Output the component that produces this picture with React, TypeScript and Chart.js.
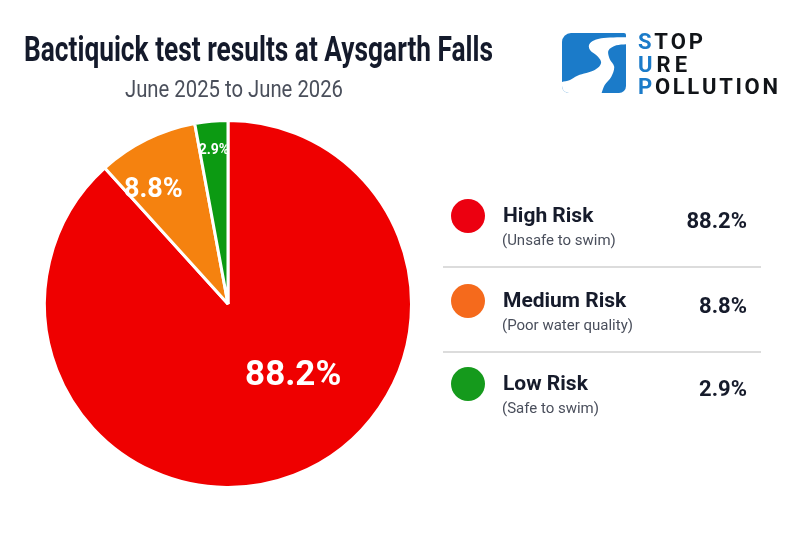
import React, { useEffect, useRef } from "react";
import { Chart, registerables } from "chart.js";

Chart.register(...registerables);

// ---- data ----
const categories = ["High Risk", "Medium Risk", "Low Risk"];
const descriptions = ["(Unsafe to swim)", "(Poor water quality)", "(Safe to swim)"];
const values = [88.2, 8.8, 2.9];
const titleText = "Bactiquick test results at Aysgarth Falls";
const subtitleText = "June 2025 to June 2026";
const logoFirstLetters = ["S", "U", "P"];
const logoRest = ["TOP", "RE", "OLLUTION"];

// ---- styles ----
const sliceColors = ["#EF0000", "#F5820F", "#0C9A12"];
const legendColors = ["#EC0010", "#F56A1C", "#159A1C"];
const labelRadiusFrac = [0.53, 0.74, 0.84];
const labelAngleShift = [-21, -7, 0];
const labelFontSize = [35, 27, 14];
const FONT = "Roboto, 'Noto Sans', sans-serif";

const fmt = (v: number) => v.toFixed(1) + "%";

function drawText(
  ctx: CanvasRenderingContext2D,
  text: string,
  x: number,
  y: number,
  font: string,
  color: string,
  width?: number,
  align: "left" | "right" | "center" = "left",
  baseline: CanvasTextBaseline = "alphabetic"
) {
  ctx.save();
  ctx.font = font;
  ctx.fillStyle = color;
  ctx.textBaseline = baseline;
  ctx.textAlign = "left";
  const w = ctx.measureText(text).width;
  const s = width ? width / w : 1;
  const left = align === "left" ? x : align === "right" ? x - w * s : x - (w * s) / 2;
  ctx.translate(left, y);
  ctx.scale(s, 1);
  ctx.fillText(text, 0, 0);
  ctx.restore();
}

function drawSpaced(
  ctx: CanvasRenderingContext2D,
  first: string,
  rest: string,
  x: number,
  y: number,
  font: string,
  target: number
) {
  ctx.save();
  ctx.font = font;
  ctx.textBaseline = "alphabetic";
  ctx.textAlign = "left";
  const chars = (first + rest).split("");
  const total = chars.reduce((a, c) => a + ctx.measureText(c).width, 0);
  const gap = chars.length > 1 ? (target - total) / (chars.length - 1) : 0;
  let cx = x;
  chars.forEach((c, i) => {
    ctx.fillStyle = i === 0 ? "#1B7BC9" : "#111418";
    ctx.fillText(c, cx, y);
    cx += ctx.measureText(c).width + gap;
  });
  ctx.restore();
}

// smooth path through points (Catmull-Rom -> Bezier)
function smoothThrough(ctx: CanvasRenderingContext2D, pts: number[][], start: boolean) {
  if (start) ctx.moveTo(pts[0][0], pts[0][1]);
  else ctx.lineTo(pts[0][0], pts[0][1]);
  for (let i = 0; i < pts.length - 1; i++) {
    const p0 = pts[Math.max(i - 1, 0)];
    const p1 = pts[i];
    const p2 = pts[i + 1];
    const p3 = pts[Math.min(i + 2, pts.length - 1)];
    const c1x = p1[0] + (p2[0] - p0[0]) / 6;
    const c1y = p1[1] + (p2[1] - p0[1]) / 6;
    const c2x = p2[0] - (p3[0] - p1[0]) / 6;
    const c2y = p2[1] - (p3[1] - p1[1]) / 6;
    ctx.bezierCurveTo(c1x, c1y, c2x, c2y, p2[0], p2[1]);
  }
}

function drawLogo(ctx: CanvasRenderingContext2D) {
  ctx.save();
  ctx.beginPath();
  (ctx as any).roundRect(562, 33, 64, 60, [9, 2, 7, 7]);
  ctx.fillStyle = "#1B7BC9";
  ctx.fill();
  ctx.clip();
  ctx.fillStyle = "#ffffff";
  ctx.beginPath();
  const left = [
    [628, 37.3], [601.3, 38.3], [590, 43.3], [590, 50], [598, 56.7], [601, 63.3],
    [594.7, 70], [578, 75.5], [570, 80], [562, 82], [560, 84],
  ];
  const right = [
    [601.3, 94], [604.7, 85], [611.3, 76.7], [614.2, 66.7], [609.7, 59], [608.5, 50.5], [616.3, 45.3], [628, 44],
  ];
  smoothThrough(ctx, left, true);
  ctx.lineTo(560, 95);
  smoothThrough(ctx, right, false);
  ctx.closePath();
  ctx.fill();
  ctx.restore();

  const f = `700 22px ${FONT}`;
  drawSpaced(ctx, logoFirstLetters[0], logoRest[0], 638, 49, f, 65);
  drawSpaced(ctx, logoFirstLetters[1], logoRest[1], 638, 72, f, 49);
  drawSpaced(ctx, logoFirstLetters[2], logoRest[2], 638, 94, f, 140);
}

const decorPlugin = {
  id: "decor",
  beforeDraw(chart: any) {
    const ctx: CanvasRenderingContext2D = chart.ctx;
    ctx.save();
    ctx.fillStyle = "#ffffff";
    ctx.fillRect(0, 0, chart.width, chart.height);
    ctx.restore();
  },
  afterDraw(chart: any) {
    const ctx: CanvasRenderingContext2D = chart.ctx;
    // title & subtitle
    drawText(ctx, titleText, 24, 61, `700 35px ${FONT}`, "#141A2B", 469);
    drawText(ctx, subtitleText, 125, 97, `400 24px ${FONT}`, "#4A4F5B", 218);

    // slice labels
    const meta = chart.getDatasetMeta(0);
    meta.data.forEach((arc: any, i: number) => {
      const p = arc.getProps(["x", "y", "startAngle", "endAngle", "outerRadius"], true);
      const mid = (p.startAngle + p.endAngle) / 2 + (labelAngleShift[i] * Math.PI) / 180;
      const r = p.outerRadius * labelRadiusFrac[i];
      const lx = p.x + Math.cos(mid) * r;
      const ly = p.y + Math.sin(mid) * r;
      drawText(ctx, fmt(values[i]), lx, ly, `700 ${labelFontSize[i]}px ${FONT}`, "#ffffff", undefined, "center", "middle");
    });

    // legend
    const rowY = [216, 301, 384];
    categories.forEach((c, i) => {
      const y = rowY[i];
      ctx.save();
      ctx.beginPath();
      ctx.arc(468, y, 17, 0, Math.PI * 2);
      ctx.fillStyle = legendColors[i];
      ctx.fill();
      ctx.restore();
      drawText(ctx, c, 503, y + 6, `700 21px ${FONT}`, "#161B2B");
      drawText(ctx, descriptions[i], 502, y + 29, `400 15px ${FONT}`, "#4A4F5C");
      drawText(ctx, fmt(values[i]), 747, y + 12, `700 22px ${FONT}`, "#161B2B", undefined, "right");
    });
    ctx.save();
    ctx.strokeStyle = "#DCDCDC";
    ctx.lineWidth = 2;
    [267, 352].forEach((y) => {
      ctx.beginPath();
      ctx.moveTo(443, y);
      ctx.lineTo(761, y);
      ctx.stroke();
    });
    ctx.restore();

    drawLogo(ctx);
  },
};

export default function App() {
  const ref = useRef<HTMLCanvasElement | null>(null);
  useEffect(() => {
    document.body.style.margin = "0";
    const canvas = ref.current;
    if (!canvas) return;
    const chart = new Chart(canvas, {
      type: "pie",
      data: {
        labels: categories,
        datasets: [
          {
            data: values,
            backgroundColor: sliceColors,
            borderColor: "#ffffff",
            borderWidth: 3,
          },
        ],
      },
      options: {
        responsive: false,
        animation: false,
        devicePixelRatio: 1,
        layout: { padding: { left: 43, right: 387, top: 119, bottom: 44 } },
        plugins: {
          legend: { display: false },
          tooltip: { enabled: false },
          title: { display: false },
        },
      },
      plugins: [decorPlugin],
    });
    return () => chart.destroy();
  }, []);
  return (
    <canvas ref={ref} width={800} height={533} style={{ display: "block", width: 800, height: 533 }} />
  );
}
